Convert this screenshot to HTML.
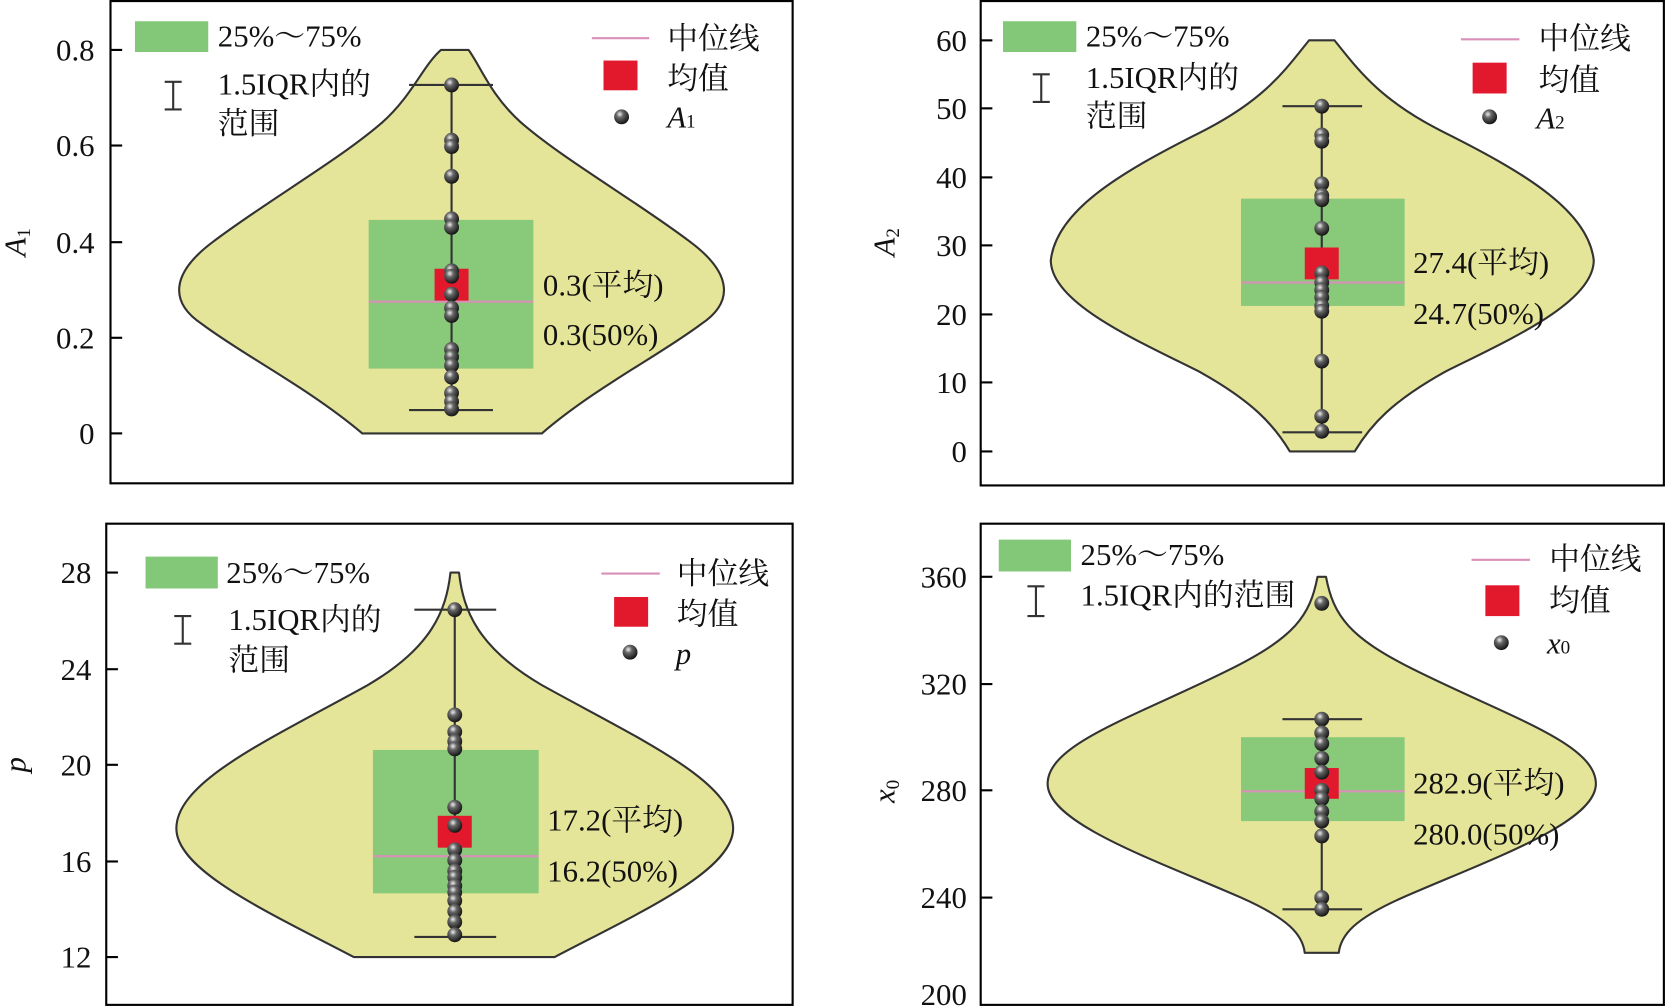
<!DOCTYPE html>
<html><head><meta charset="utf-8"><style>
html,body{margin:0;padding:0;background:#fff;}
svg{display:block;}
text{font-family:"Liberation Serif","Noto Serif CJK SC","Noto Sans CJK SC",serif;fill:#111;font-size:29px;}
.t{text-anchor:end;}
</style></head><body>
<svg width="1666" height="1007" viewBox="0 0 1568 948" preserveAspectRatio="none" xmlns="http://www.w3.org/2000/svg">
<defs>
<radialGradient id="b" cx="0.38" cy="0.32" r="0.7">
<stop offset="0" stop-color="#eee"/><stop offset="0.35" stop-color="#666"/><stop offset="1" stop-color="#111"/>
</radialGradient>
</defs>
<g fill="none" stroke="#000" stroke-width="2">
<rect x="104" y="1" width="642" height="454"/>
<rect x="923" y="1" width="643" height="456"/>
<rect x="100" y="493" width="646" height="453"/>
<rect x="923" y="493" width="643" height="453"/>
</g>
<g stroke-linejoin="round">
<!-- Panel 1 -->
<path d="M415,47 L441,47 C452,62 462,90 490,115 C530,150 600,190 650,228 C690,258 690,285 660,305 C620,335 560,365 510,408 L341,408 C290,365 230,335 190,305 C160,285 160,258 200,228 C250,190 320,150 360,115 C388,90 398,62 415,47 Z" fill="#e5e59a" stroke="#333" stroke-width="2"/>
<!-- Panel 2 -->
<path d="M1232,38 L1256,38 C1280,68 1300,95 1360,125 C1440,165 1495,200 1500,245 C1500,285 1420,320 1360,350 C1310,378 1290,400 1275,425 L1214,425 C1199,400 1179,378 1129,350 C1069,320 989,285 989,245 C994,200 1049,165 1129,125 C1189,95 1208,68 1232,38 Z" fill="#e5e59a" stroke="#333" stroke-width="2"/>
<!-- Panel 3 -->
<path d="M424,539 L432,539 C436,575 450,610 510,645 C600,695 690,735 690,780 C690,820 600,860 522,901 L333,901 C255,860 166,820 166,780 C166,735 256,695 346,645 C406,610 420,575 424,539 Z" fill="#e5e59a" stroke="#333" stroke-width="2"/>
<!-- Panel 4 -->
<path d="M1240,543 L1248,543 C1255,580 1270,600 1330,630 C1420,675 1502,700 1502,738 C1502,775 1400,810 1320,845 C1275,865 1262,880 1260,897 L1228,897 C1226,880 1213,865 1168,845 C1088,810 986,775 986,738 C986,700 1068,675 1158,630 C1218,600 1233,580 1240,543 Z" fill="#e5e59a" stroke="#333" stroke-width="2"/>
</g>
<!-- Panel 1 -->
<rect x="347" y="207" width="155" height="140" fill="#83c878" opacity="0.95"/>
<g stroke="#333" stroke-width="2"><line x1="425" y1="80" x2="425" y2="386"/><line x1="385" y1="80" x2="464" y2="80"/><line x1="385" y1="386" x2="464" y2="386"/></g>
<line x1="347" y1="284" x2="502" y2="284" stroke="#d98fb8" stroke-width="2"/>
<rect x="409" y="253" width="32" height="30" fill="#e2182d"/>
<g fill="url(#b)">
<circle cx="425" cy="80" r="7"/><circle cx="425" cy="132" r="7"/><circle cx="425" cy="138" r="7"/><circle cx="425" cy="166" r="7"/><circle cx="425" cy="206" r="7"/><circle cx="425" cy="214" r="7"/><circle cx="425" cy="255" r="7"/><circle cx="425" cy="260" r="7"/><circle cx="425" cy="277" r="7"/><circle cx="425" cy="290" r="7"/><circle cx="425" cy="297" r="7"/><circle cx="425" cy="329" r="7"/><circle cx="425" cy="336" r="7"/><circle cx="425" cy="344" r="7"/><circle cx="425" cy="355" r="7"/><circle cx="425" cy="370" r="7"/><circle cx="425" cy="378" r="7"/><circle cx="425" cy="385" r="7"/>
</g>
<g stroke="#000" stroke-width="2"><line x1="104" y1="47" x2="115" y2="47"/><line x1="104" y1="137" x2="115" y2="137"/><line x1="104" y1="228" x2="115" y2="228"/><line x1="104" y1="318" x2="115" y2="318"/><line x1="104" y1="408" x2="115" y2="408"/></g>
<text class="t" x="89" y="57">0.8</text><text class="t" x="89" y="147">0.6</text><text class="t" x="89" y="238">0.4</text><text class="t" x="89" y="328">0.2</text><text class="t" x="89" y="418">0</text>
<text transform="translate(24,228) rotate(-90)" text-anchor="middle"><tspan font-style="italic">A</tspan><tspan font-size="18" dy="4">1</tspan></text>
<text x="511" y="278">0.3(平均)</text><text x="511" y="325">0.3(50%)</text>
<rect x="127" y="20" width="69" height="29" fill="#83c878"/><text x="205" y="44">25%～75%</text>
<g stroke="#333" stroke-width="2"><line x1="163" y1="77" x2="163" y2="103"/><line x1="155" y1="77" x2="171" y2="77"/><line x1="155" y1="103" x2="171" y2="103"/></g>
<text x="205" y="89">1.5IQR内的</text><text x="205" y="126">范围</text>
<line x1="557" y1="36" x2="611" y2="36" stroke="#d98fb8" stroke-width="2"/><text x="628" y="46">中位线</text>
<rect x="568" y="57" width="32" height="28" fill="#e2182d"/><text x="628" y="84">均值</text>
<circle cx="585" cy="110" r="7" fill="url(#b)"/><text x="628" y="120"><tspan font-style="italic">A</tspan><tspan font-size="18">1</tspan></text>
<!-- Panel 2 -->
<rect x="1168" y="187" width="154" height="101" fill="#83c878" opacity="0.95"/>
<g stroke="#333" stroke-width="2"><line x1="1244" y1="100" x2="1244" y2="407"/><line x1="1207" y1="100" x2="1282" y2="100"/><line x1="1207" y1="407" x2="1282" y2="407"/></g>
<line x1="1168" y1="266" x2="1322" y2="266" stroke="#d98fb8" stroke-width="2"/>
<rect x="1228" y="233" width="32" height="30" fill="#e2182d"/>
<g fill="url(#b)">
<circle cx="1244" cy="100" r="7"/><circle cx="1244" cy="127" r="7"/><circle cx="1244" cy="133" r="7"/><circle cx="1244" cy="173" r="7"/><circle cx="1244" cy="184" r="7"/><circle cx="1244" cy="188" r="7"/><circle cx="1244" cy="215" r="7"/><circle cx="1244" cy="257" r="7"/><circle cx="1244" cy="266" r="7"/><circle cx="1244" cy="273" r="7"/><circle cx="1244" cy="280" r="7"/><circle cx="1244" cy="288" r="7"/><circle cx="1244" cy="293" r="7"/><circle cx="1244" cy="340" r="7"/><circle cx="1244" cy="392" r="7"/><circle cx="1244" cy="406" r="7"/>
</g>
<g stroke="#000" stroke-width="2"><line x1="923" y1="38" x2="934" y2="38"/><line x1="923" y1="102" x2="934" y2="102"/><line x1="923" y1="167" x2="934" y2="167"/><line x1="923" y1="231" x2="934" y2="231"/><line x1="923" y1="296" x2="934" y2="296"/><line x1="923" y1="360" x2="934" y2="360"/><line x1="923" y1="425" x2="934" y2="425"/></g>
<text class="t" x="910" y="48">60</text><text class="t" x="910" y="112">50</text><text class="t" x="910" y="177">40</text><text class="t" x="910" y="241">30</text><text class="t" x="910" y="306">20</text><text class="t" x="910" y="370">10</text><text class="t" x="910" y="435">0</text>
<text transform="translate(842,228) rotate(-90)" text-anchor="middle"><tspan font-style="italic">A</tspan><tspan font-size="18" dy="4">2</tspan></text>
<text x="1330" y="257">27.4(平均)</text><text x="1330" y="305">24.7(50%)</text>
<rect x="944" y="20" width="69" height="29" fill="#83c878"/><text x="1022" y="44">25%～75%</text>
<g stroke="#333" stroke-width="2"><line x1="980" y1="70" x2="980" y2="96"/><line x1="972" y1="70" x2="988" y2="70"/><line x1="972" y1="96" x2="988" y2="96"/></g>
<text x="1022" y="83">1.5IQR内的</text><text x="1022" y="119">范围</text>
<line x1="1375" y1="37" x2="1430" y2="37" stroke="#d98fb8" stroke-width="2"/><text x="1448" y="46">中位线</text>
<rect x="1386" y="59" width="32" height="29" fill="#e2182d"/><text x="1448" y="85">均值</text>
<circle cx="1402" cy="110" r="7" fill="url(#b)"/><text x="1446" y="121"><tspan font-style="italic">A</tspan><tspan font-size="18">2</tspan></text>
<!-- Panel 3 -->
<rect x="351" y="706" width="156" height="135" fill="#83c878" opacity="0.95"/>
<g stroke="#333" stroke-width="2"><line x1="428" y1="574" x2="428" y2="882"/><line x1="390" y1="574" x2="467" y2="574"/><line x1="390" y1="882" x2="467" y2="882"/></g>
<line x1="351" y1="806" x2="507" y2="806" stroke="#d98fb8" stroke-width="2"/>
<rect x="412" y="768" width="32" height="30" fill="#e2182d"/>
<g fill="url(#b)">
<circle cx="428" cy="574" r="7"/><circle cx="428" cy="673" r="7"/><circle cx="428" cy="689" r="7"/><circle cx="428" cy="698" r="7"/><circle cx="428" cy="705" r="7"/><circle cx="428" cy="760" r="7"/><circle cx="428" cy="777" r="7"/><circle cx="428" cy="800" r="7"/><circle cx="428" cy="810" r="7"/><circle cx="428" cy="820" r="7"/><circle cx="428" cy="826" r="7"/><circle cx="428" cy="834" r="7"/><circle cx="428" cy="840" r="7"/><circle cx="428" cy="848" r="7"/><circle cx="428" cy="858" r="7"/><circle cx="428" cy="868" r="7"/><circle cx="428" cy="880" r="7"/>
</g>
<g stroke="#000" stroke-width="2"><line x1="100" y1="539" x2="111" y2="539"/><line x1="100" y1="630" x2="111" y2="630"/><line x1="100" y1="720" x2="111" y2="720"/><line x1="100" y1="811" x2="111" y2="811"/><line x1="100" y1="901" x2="111" y2="901"/></g>
<text class="t" x="86" y="549">28</text><text class="t" x="86" y="640">24</text><text class="t" x="86" y="730">20</text><text class="t" x="86" y="821">16</text><text class="t" x="86" y="911">12</text>
<text transform="translate(24,720) rotate(-90)" text-anchor="middle" font-style="italic">p</text>
<text x="515" y="782">17.2(平均)</text><text x="515" y="830">16.2(50%)</text>
<rect x="137" y="524" width="68" height="30" fill="#83c878"/><text x="213" y="549">25%～75%</text>
<g stroke="#333" stroke-width="2"><line x1="172" y1="580" x2="172" y2="606"/><line x1="164" y1="580" x2="180" y2="580"/><line x1="164" y1="606" x2="180" y2="606"/></g>
<text x="215" y="593">1.5IQR内的</text><text x="215" y="631">范围</text>
<line x1="566" y1="540" x2="621" y2="540" stroke="#d98fb8" stroke-width="2"/><text x="637" y="550">中位线</text>
<rect x="578" y="562" width="32" height="28" fill="#e2182d"/><text x="637" y="588">均值</text>
<circle cx="593" cy="614" r="7" fill="url(#b)"/><text x="636" y="625" font-style="italic">p</text>
<!-- Panel 4 -->
<rect x="1168" y="694" width="154" height="79" fill="#83c878" opacity="0.95"/>
<g stroke="#333" stroke-width="2"><line x1="1244" y1="677" x2="1244" y2="856"/><line x1="1207" y1="677" x2="1282" y2="677"/><line x1="1207" y1="856" x2="1282" y2="856"/></g>
<line x1="1168" y1="745" x2="1322" y2="745" stroke="#d98fb8" stroke-width="2"/>
<rect x="1228" y="723" width="32" height="29" fill="#e2182d"/>
<g fill="url(#b)">
<circle cx="1244" cy="568" r="7"/><circle cx="1244" cy="677" r="7"/><circle cx="1244" cy="690" r="7"/><circle cx="1244" cy="700" r="7"/><circle cx="1244" cy="714" r="7"/><circle cx="1244" cy="727" r="7"/><circle cx="1244" cy="744" r="7"/><circle cx="1244" cy="752" r="7"/><circle cx="1244" cy="764" r="7"/><circle cx="1244" cy="773" r="7"/><circle cx="1244" cy="787" r="7"/><circle cx="1244" cy="845" r="7"/><circle cx="1244" cy="856" r="7"/>
</g>
<g stroke="#000" stroke-width="2"><line x1="923" y1="543" x2="934" y2="543"/><line x1="923" y1="644" x2="934" y2="644"/><line x1="923" y1="744" x2="934" y2="744"/><line x1="923" y1="845" x2="934" y2="845"/></g>
<text class="t" x="910" y="553">360</text><text class="t" x="910" y="654">320</text><text class="t" x="910" y="754">280</text><text class="t" x="910" y="855">240</text><text class="t" x="910" y="946">200</text>
<text transform="translate(842,745) rotate(-90)" text-anchor="middle"><tspan font-style="italic">x</tspan><tspan font-size="18" dy="4">0</tspan></text>
<text x="1330" y="747">282.9(平均)</text><text x="1330" y="795">280.0(50%)</text>
<rect x="940" y="508" width="68" height="30" fill="#83c878"/><text x="1017" y="532">25%～75%</text>
<g stroke="#333" stroke-width="2"><line x1="975" y1="552" x2="975" y2="580"/><line x1="967" y1="552" x2="983" y2="552"/><line x1="967" y1="580" x2="983" y2="580"/></g>
<text x="1017" y="570">1.5IQR内的范围</text>
<line x1="1385" y1="527" x2="1440" y2="527" stroke="#d98fb8" stroke-width="2"/><text x="1458" y="536">中位线</text>
<rect x="1398" y="551" width="32" height="29" fill="#e2182d"/><text x="1458" y="575">均值</text>
<circle cx="1413" cy="605" r="7" fill="url(#b)"/><text x="1456" y="615"><tspan font-style="italic">x</tspan><tspan font-size="18">0</tspan></text>
</svg>
</body></html>
